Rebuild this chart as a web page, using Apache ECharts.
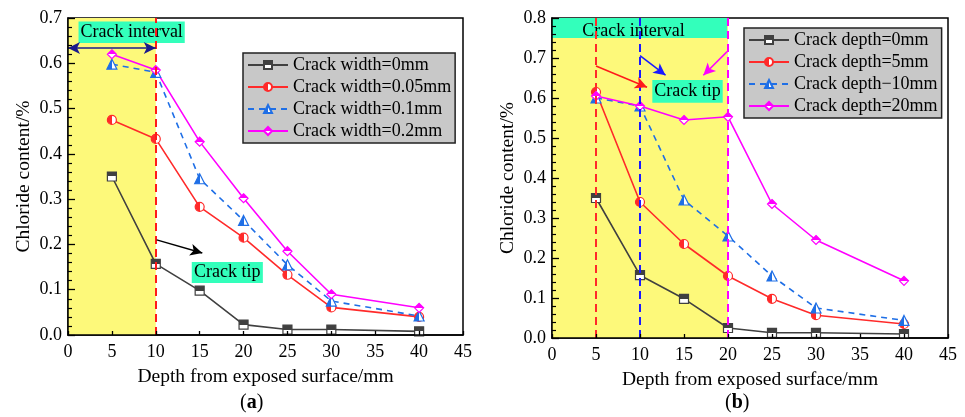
<!DOCTYPE html>
<html>
<head>
<meta charset="utf-8">
<script src="https://cdn.jsdelivr.net/npm/echarts@6/dist/echarts.min.js"></script>
<style>
  html, body { margin: 0; padding: 0; background: #fff; }
  #chart { width: 965px; height: 417px; }
</style>
</head>
<body>
<div id="chart"></div>
<script>
// depths (mm)
const depths = [5, 10, 15, 20, 25, 30, 40]

// (a) crack width
const widthNames = ['Crack width=0mm', 'Crack width=0.05mm', 'Crack width=0.1mm', 'Crack width=0.2mm']
const width0 = [0.350, 0.157, 0.098, 0.023, 0.012, 0.012, 0.008]
const width005 = [0.475, 0.433, 0.283, 0.215, 0.133, 0.061, 0.040]
const width01 = [0.598, 0.580, 0.345, 0.253, 0.155, 0.075, 0.042]
const width02 = [0.620, 0.585, 0.427, 0.302, 0.185, 0.090, 0.060]

// (b) crack depth
const depthNames = ['Crack depth=0mm', 'Crack depth=5mm', 'Crack depth\u221210mm', 'Crack depth=20mm']
const depth0 = [0.350, 0.157, 0.098, 0.025, 0.013, 0.013, 0.010]
const depth5 = [0.615, 0.340, 0.235, 0.155, 0.098, 0.057, 0.035]
const depth10 = [0.600, 0.580, 0.345, 0.255, 0.155, 0.075, 0.044]
const depth20 = [0.605, 0.580, 0.545, 0.553, 0.335, 0.245, 0.143]

const colors = ['#404040', '#ff2a2a', '#1f6fe6', '#ff00ff']
const symbols = ['rect', 'circle', 'triangle', 'diamond']
const font = 'Liberation Serif'

const chart = echarts.init(document.getElementById('chart'))

// half-filled marker fill
const halfFill = (c, i) => {
  const dir = (i === 1 || i === 2) ? [0, 0, 1, 0] : [0, 0, 0, 1]
  return new echarts.graphic.LinearGradient(dir[0], dir[1], dir[2], dir[3], [
    { offset: 0, color: c }, { offset: 0.5, color: c },
    { offset: 0.5, color: '#fff' }, { offset: 1, color: '#fff' }
  ])
}

const mkSeries = (name, data, i, gi) => ({
  name, type: 'line', xAxisIndex: gi, yAxisIndex: gi, z: 3,
  data: depths.map((d, k) => [d, data[k]]),
  symbol: symbols[i], symbolSize: i === 2 ? 10 : 9,
  lineStyle: { color: colors[i], width: 1.6, type: i === 2 ? [6, 5] : 'solid' },
  itemStyle: { color: halfFill(colors[i], i), borderColor: colors[i], borderWidth: 1.2 }
})

const arrow = (from, to, color, both) => [
  { coord: from, lineStyle: { color }, symbol: both ? 'arrow' : 'none' },
  { coord: to, symbol: 'arrow' }
]

const boxLabel = text => ({
  show: true, position: 'inside', color: '#000', fontFamily: font, fontSize: 18, formatter: text
})

const xAxis = gi => ({
  type: 'value', gridIndex: gi, min: 0, max: 45, interval: 5, z: 10,
  axisLine: { lineStyle: { color: '#000', width: 1.5 } },
  axisTick: { inside: true, length: 4, lineStyle: { color: '#000', width: 1.3 } },
  axisLabel: { color: '#000', fontFamily: font, fontSize: 18, margin: 8 },
  splitLine: { show: false },
  name: 'Depth from exposed surface/mm', nameLocation: 'middle', nameGap: 32,
  nameTextStyle: { color: '#000', fontFamily: font, fontSize: 19.5 }
})

const yAxis = (gi, max) => ({
  type: 'value', gridIndex: gi, min: 0, max, interval: 0.1, z: 10,
  axisLine: { lineStyle: { color: '#000', width: 1.5 } },
  axisTick: { inside: true, length: 7, lineStyle: { color: '#000', width: 1.3 } },
  minorTick: { show: true, splitNumber: 5, length: 4, lineStyle: { color: '#000', width: 1.2 } },
  axisLabel: { color: '#000', fontFamily: font, fontSize: 18, margin: 6, formatter: v => v.toFixed(1) },
  splitLine: { show: false },
  name: 'Chloride content/%', nameLocation: 'middle', nameGap: 34,
  nameTextStyle: { color: '#000', fontFamily: font, fontSize: 19.5 }
})

const legend = (names, left, top) => ({
  data: names, orient: 'vertical', left, top,
  backgroundColor: '#c8c8c8', borderColor: '#222', borderWidth: 1.5, borderRadius: 0,
  padding: [3, 4, 3, 4], itemGap: 4, itemWidth: 40, itemHeight: 10,
  textStyle: { color: '#000', fontFamily: font, fontSize: 18 }
})

chart.setOption({
  animation: false,
  grid: [
    { left: 68, right: 502, top: 18, bottom: 82, show: true, borderColor: '#000', borderWidth: 1.5, backgroundColor: 'transparent' },
    { left: 552, right: 17, top: 18, bottom: 79, show: true, borderColor: '#000', borderWidth: 1.5, backgroundColor: 'transparent' }
  ],
  legend: [legend(widthNames, 243, 53), legend(depthNames, 744, 28)],
  xAxis: [xAxis(0), xAxis(1)],
  yAxis: [yAxis(0, 0.7), yAxis(1, 0.8)],
  series: [
    // backgrounds
    {
      type: 'line', xAxisIndex: 0, yAxisIndex: 0, data: [], z: 1, silent: true,
      markArea: { silent: true, itemStyle: { color: '#fdf97a' }, data: [[{ coord: [0, 0] }, { coord: [10, 0.7] }]] }
    },
    {
      type: 'line', xAxisIndex: 1, yAxisIndex: 1, data: [], z: 1, silent: true,
      markArea: { silent: true, itemStyle: { color: '#fdf97a' }, data: [[{ coord: [0, 0] }, { coord: [20, 0.8] }]] },
      markLine: {
        silent: true, symbol: 'none', label: { show: false },
        lineStyle: { type: [8, 5], width: 2 },
        data: [
          [{ coord: [5, 0], lineStyle: { color: '#ff2a2a' } }, { coord: [5, 0.8] }],
          [{ coord: [10, 0], lineStyle: { color: '#1a1aff' } }, { coord: [10, 0.8] }],
          [{ coord: [20, 0], lineStyle: { color: '#ff00ff' } }, { coord: [20, 0.8] }]
        ]
      }
    },
    widthNames.map((n, i) => mkSeries(n, [width0, width005, width01, width02][i], i, 0)),
    depthNames.map((n, i) => mkSeries(n, [depth0, depth5, depth10, depth20][i], i, 1)),
    // annotations (a)
    {
      type: 'line', xAxisIndex: 0, yAxisIndex: 0, data: [], z: 5, silent: true,
      markArea: {
        silent: true, itemStyle: { color: '#33ffbb' },
        data: [
          [{ coord: [1.2, 0.645], label: boxLabel('Crack interval') }, { coord: [13.3, 0.692] }],
          [{ coord: [14.1, 0.115], label: boxLabel('Crack tip') }, { coord: [22.2, 0.161] }]
        ]
      },
      markLine: {
        silent: true, label: { show: false }, symbolSize: [9, 12],
        lineStyle: { type: 'solid', width: 1.5 },
        data: [
          [{ coord: [10, 0], lineStyle: { color: '#ff1a1a', type: [8, 5], width: 2 }, symbol: 'none' }, { coord: [10, 0.7], symbol: 'none' }],
          arrow([0, 0.634], [10, 0.634], '#1a1a8c', true),
          arrow([10.1, 0.21], [15.3, 0.181], '#000', false)
        ]
      }
    },
    // annotations (b)
    {
      type: 'line', xAxisIndex: 1, yAxisIndex: 1, data: [], z: 5, silent: true,
      markArea: {
        silent: true, itemStyle: { color: '#33ffbb' },
        data: [
          [{ coord: [0, 0.75], label: { ...boxLabel('Crack interval'), offset: [-6, 3] } }, { coord: [19.9, 0.8] }],
          [{ coord: [11.4, 0.588], label: boxLabel('Crack tip') }, { coord: [19.4, 0.645] }]
        ]
      },
      markLine: {
        silent: true, label: { show: false }, symbolSize: [9, 12],
        lineStyle: { type: 'solid', width: 1.5 },
        data: [
          arrow([5, 0.68], [10.8, 0.627], '#ff1a1a', false),
          arrow([10, 0.706], [12.9, 0.657], '#1a1aff', false),
          arrow([19.9, 0.716], [17.2, 0.657], '#ff00ff', false)
        ]
      }
    }
  ].flat(),
  graphic: [
    { type: 'text', left: 240, top: 393, style: { text: '({b|a})', rich: { b: { fontWeight: 'bold', fontFamily: font, fontSize: 20 } }, fontFamily: font, fontSize: 20, fill: '#000' } },
    { type: 'text', left: 725, top: 393, style: { text: '({b|b})', rich: { b: { fontWeight: 'bold', fontFamily: font, fontSize: 20 } }, fontFamily: font, fontSize: 20, fill: '#000' } }
  ]
})
</script>
</body>
</html>
